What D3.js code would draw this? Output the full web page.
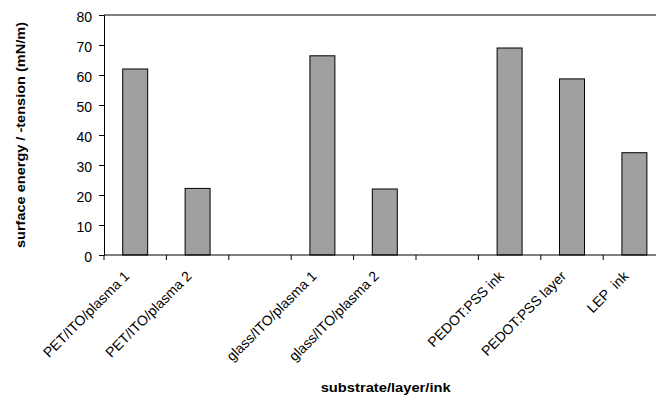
<!DOCTYPE html>
<html><head><meta charset="utf-8">
<script src="https://cdn.jsdelivr.net/npm/d3@7"></script>
<style>body{margin:0;background:#fff}svg{display:block}text{font-family:"Liberation Sans",Arial,sans-serif}</style>
</head><body>
<svg id="c" width="656" height="396"></svg>
<script>
const categories = ["PET/ITO/plasma 1","PET/ITO/plasma 2","gap1","glass/ITO/plasma 1","glass/ITO/plasma 2","gap2","PEDOT:PSS ink","PEDOT:PSS layer","LEP  ink"];
const values = [62, 22.2, null, 66.4, 22, null, 69, 58.7, 34.1];
const yTicks = [0,10,20,30,40,50,60,70,80];

const svg = d3.select("#c");
const L = 104, R = 665.6, T = 15, B = 255;
const x = d3.scaleBand().domain(categories).range([L, R]).paddingInner(0.6).paddingOuter(0.3);
const xs = d3.scaleBand().domain(categories).range([L, R]);
const y = d3.scaleLinear().domain([0, 80]).range([B, T]);

svg.append("path").attr("d", `M${L},${T}H${R}V${B}`).attr("fill","none").attr("stroke","#000").attr("stroke-width",1);

const data = categories.map((c,i)=>({c, v: values[i]})).filter(d=>d.v!=null);
svg.selectAll("rect.bar").data(data).enter().append("rect")
  .attr("x", d=>x(d.c)).attr("width", x.bandwidth())
  .attr("y", d=>y(d.v)).attr("height", d=>B - y(d.v))
  .attr("fill","#a0a0a0").attr("stroke","#000").attr("stroke-width",1);

const ya = svg.append("g").attr("transform",`translate(${L},0)`)
  .call(d3.axisLeft(y).tickValues(yTicks).tickSize(5).tickPadding(7));
ya.selectAll("text").attr("font-size",14).attr("fill","#000").attr("dy","0.45em")
  .attr("font-family","Liberation Sans, Arial, sans-serif");
ya.select(".domain").attr("stroke","#000");

svg.append("line").attr("x1",L).attr("x2",R).attr("y1",B).attr("y2",B).attr("stroke","#000");
const bounds = categories.map(c=>xs(c)).concat([R]);
svg.selectAll("line.xt").data(bounds).enter().append("line")
  .attr("x1",d=>d).attr("x2",d=>d).attr("y1",B).attr("y2",B+5).attr("stroke","#000");

const labels = categories.map((c,i)=>({c, show: values[i]!=null}));
svg.selectAll("text.xl").data(labels.filter(d=>d.show)).enter().append("text")
  .attr("transform", d=>`translate(${x(d.c)+x.bandwidth()/2-5},${B+22}) rotate(-45)`)
  .attr("text-anchor","end").attr("font-size",14).attr("fill","#000")
  .style("white-space","pre").text(d=>d.c);

svg.append("text").attr("x", 385.7).attr("y", 391.5).attr("text-anchor","middle")
  .attr("font-size",13).attr("font-weight","bold")
  .attr("textLength",130).attr("lengthAdjust","spacingAndGlyphs").text("substrate/layer/ink");
svg.append("text").attr("transform",`translate(25,135) rotate(-90)`).attr("text-anchor","middle")
  .attr("font-size",13).attr("font-weight","bold")
  .attr("textLength",226).attr("lengthAdjust","spacingAndGlyphs").text("surface energy / -tension (mN/m)");
</script>
</body></html>
